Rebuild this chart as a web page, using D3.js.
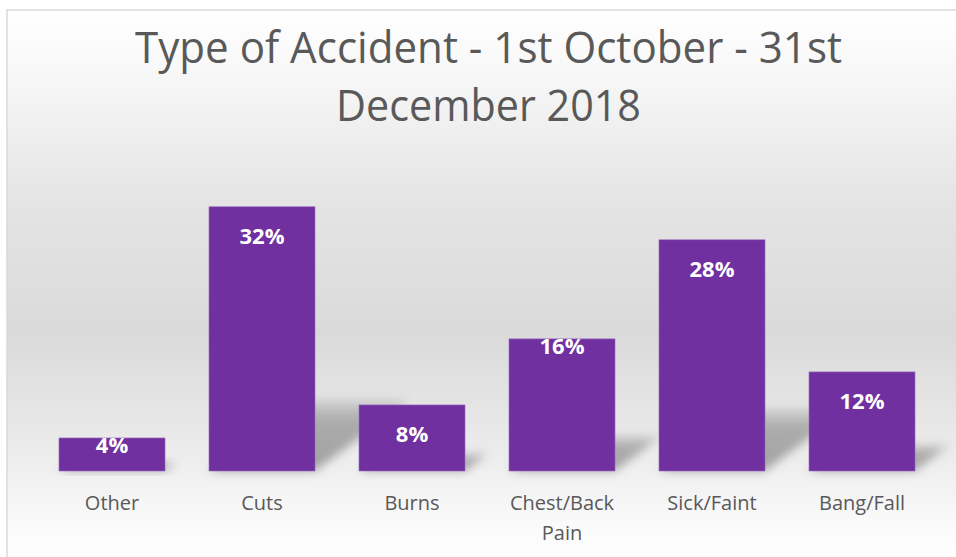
<!DOCTYPE html>
<html>
<head>
<meta charset="utf-8">
<script src="https://cdn.jsdelivr.net/npm/d3@7"></script>
<style>
  body { margin: 0; background: #fff; }
  svg { display: block; font-family: "Open Sans", sans-serif; }
</style>
</head>
<body>
<svg id="chart" width="956" height="557"></svg>
<script>
  /* chart data */
  let categories = ["Other", "Cuts", "Burns", "Chest/Back Pain", "Sick/Faint", "Bang/Fall"]
  let values = [4, 32, 8, 16, 28, 12]
  let titleLines = ["Type of Accident - 1st October - 31st", "December 2018"]

  let width = 956, height = 557
  let plot = {left: 37, right: 937, top: 182, bottom: 471}

  let svg = d3.select("#chart")
  let defs = svg.append("defs")

  // background gradient
  let grad = defs.append("linearGradient")
                 .attr("id", "bg")
                 .attr("x1", 0).attr("y1", 0).attr("x2", 0).attr("y2", 1)
  grad.append("stop").attr("offset", "0%").attr("stop-color", "#ffffff")
  grad.append("stop").attr("offset", "12%").attr("stop-color", "#f7f7f7")
  grad.append("stop").attr("offset", "35%").attr("stop-color", "#e4e4e4")
  grad.append("stop").attr("offset", "58%").attr("stop-color", "#dadada")
  grad.append("stop").attr("offset", "80%").attr("stop-color", "#ececec")
  grad.append("stop").attr("offset", "92%").attr("stop-color", "#fafafa")
  grad.append("stop").attr("offset", "100%").attr("stop-color", "#ffffff")

  // shadow fades out towards its far (upper) end
  let shadeGrad = defs.append("linearGradient")
                      .attr("id", "shade")
                      .attr("x1", 0).attr("y1", 1).attr("x2", 0).attr("y2", 0)
  shadeGrad.append("stop").attr("offset", "0%").attr("stop-color", "#000").attr("stop-opacity", 0.32)
  shadeGrad.append("stop").attr("offset", "70%").attr("stop-color", "#000").attr("stop-opacity", 0.26)
  shadeGrad.append("stop").attr("offset", "100%").attr("stop-color", "#000").attr("stop-opacity", 0.08)

  let blur = defs.append("filter").attr("id", "blur")
                 .attr("x", "-50%").attr("y", "-50%").attr("width", "200%").attr("height", "200%")
  blur.append("feGaussianBlur").attr("stdDeviation", 5)

  svg.append("rect")
     .attr("x", 7).attr("y", 10)
     .attr("width", width).attr("height", height)
     .attr("fill", "url(#bg)")
     .attr("stroke", "#d9d9d9")
     .attr("stroke-width", 1.5)

  // title
  svg.append("g")
     .selectAll("text")
     .data(titleLines)
     .enter()
     .append("text")
     .attr("x", 488.5)
     .attr("y", function(d, i){ return 63 + i * 58 })
     .attr("text-anchor", "middle")
     .attr("font-size", 44)
     .attr("fill", "#595959")
     .attr("textLength", function(d, i){ return i == 0 ? 707 : 305 })
     .attr("lengthAdjust", "spacingAndGlyphs")
     .text(function(d){ return d })

  let x = d3.scaleBand()
            .domain(categories)
            .range([plot.left, plot.right])
            .paddingInner(0.2933)
            .paddingOuter(0.2933 / 2)

  let y = d3.scaleLinear()
            .domain([0, 35])
            .range([plot.bottom, plot.top])

  let data = categories.map(function(c, i){ return {name: c, Value: values[i]} })

  // perspective shadows behind the bars
  svg.append("g")
     .selectAll("path")
     .data(data)
     .enter()
     .append("path")
     .attr("d", function(d){
        let h = y(0) - y(d.Value)
        let x0 = x(d.name), x1 = x0 + x.bandwidth()
        let dx = h * 0.36, dy = h * 0.27
        return `M${x0},${y(0)} L${x1},${y(0)} L${x1 + dx},${y(0) - dy} L${x0 + dx},${y(0) - dy} Z`
     })
     .attr("fill", "url(#shade)")
     .attr("filter", "url(#blur)")

  // bars
  svg.append("g")
     .selectAll("rect")
     .data(data)
     .enter()
     .append("rect")
     .attr("x", function(d){ return x(d.name) })
     .attr("y", function(d){ return y(d.Value) })
     .attr("width", x.bandwidth())
     .attr("height", function(d){ return y(0) - y(d.Value) })
     .attr("fill", "#7030a0")
     .attr("stroke", "#9a6cc0")
     .attr("stroke-width", 0.6)

  // data labels (two of them sit close to the bar top)
  let raisedLabels = ["Other", "Chest/Back Pain"]
  svg.append("g")
     .selectAll("text")
     .data(data)
     .enter()
     .append("text")
     .attr("x", function(d){ return x(d.name) + x.bandwidth() / 2 })
     .attr("y", function(d){ return y(d.Value) + (raisedLabels.includes(d.name) ? 15 : 37) })
     .attr("text-anchor", "middle")
     .attr("font-size", 22)
     .attr("font-weight", "bold")
     .attr("fill", "#ffffff")
     .text(function(d){ return d.Value + "%" })

  // category axis labels, wrapped like the original
  let xAxis = svg.append("g")
                 .attr("transform", `translate(0,${plot.bottom})`)
                 .call(d3.axisBottom(x).tickSize(0).tickPadding(0))
  xAxis.select(".domain").remove()
  xAxis.selectAll(".tick text").remove()
  xAxis.selectAll(".tick")
       .append("text")
       .attr("text-anchor", "middle")
       .attr("font-size", 20)
       .attr("font-family", "Open Sans, sans-serif")
       .attr("fill", "#595959")
       .each(function(d){
          let words = d == "Chest/Back Pain" ? ["Chest/Back", "Pain"] : [d]
          let t = d3.select(this)
          words.forEach(function(w, i){
             t.append("tspan").attr("x", 0).attr("y", 39 + i * 30).text(w)
          })
       })
</script>
</body>
</html>
